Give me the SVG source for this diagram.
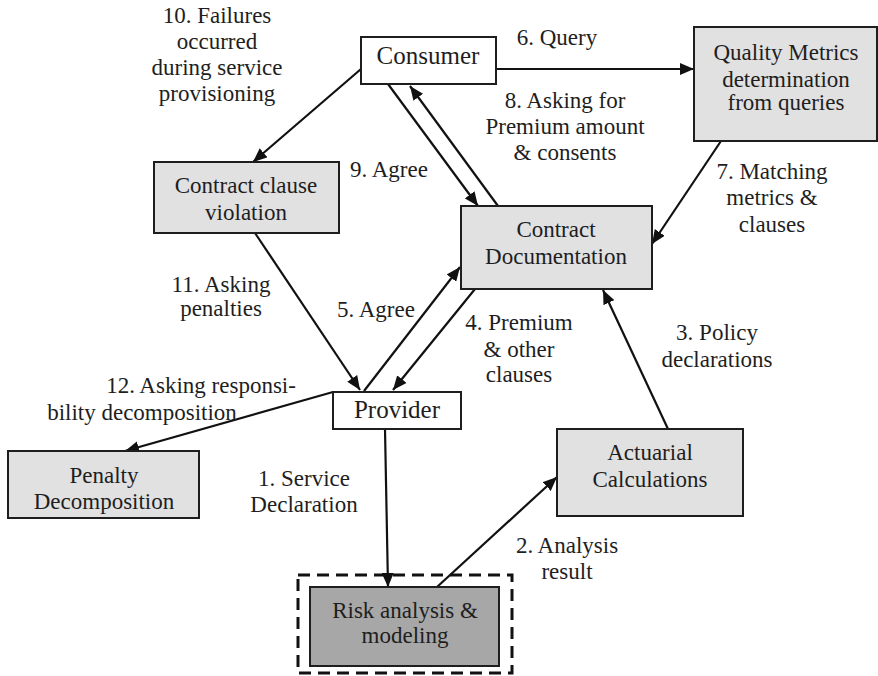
<svg xmlns="http://www.w3.org/2000/svg" width="878" height="676" viewBox="0 0 878 676" font-family="'Liberation Serif', 'DejaVu Serif', serif">
  <style>
    .box { stroke: #1e1e1e; stroke-width: 2; }
    .plain { fill: #ffffff; }
    .shade { fill: #e1e1e1; }
    .dark { fill: #a7a7a7; }
    text { font-family: 'Liberation Serif', 'DejaVu Serif', serif; }
    .lbl { font-size: 23px; fill: #1e1e1e; text-anchor: middle; }
    .big { font-size: 25px; }
    .edge { stroke: #111; stroke-width: 2.2; fill: none; marker-end: url(#head); }
  </style>
  <defs>
    <marker id="head" viewBox="0 0 14 12" refX="14" refY="6" markerWidth="14" markerHeight="12" markerUnits="userSpaceOnUse" orient="auto">
      <path d="M0,0 L14,6 L0,12 Z" fill="#111"/>
    </marker>
  </defs>

  <rect width="878" height="676" fill="#ffffff"/>

  <!-- connectors -->
  <g id="connectors">
    <line class="edge" x1="496" y1="69" x2="694" y2="69"/>
    <line class="edge" x1="721" y1="141" x2="652" y2="244"/>
    <line class="edge" x1="388" y1="84" x2="478" y2="206"/>
    <line class="edge" x1="498" y1="206" x2="410" y2="86"/>
    <line class="edge" x1="361" y1="69" x2="253" y2="162"/>
    <line class="edge" x1="255" y1="233" x2="360" y2="390"/>
    <line class="edge" x1="364" y1="391" x2="460" y2="267"/>
    <line class="edge" x1="475" y1="289" x2="393" y2="390"/>
    <line class="edge" x1="333" y1="392" x2="125" y2="451"/>
    <line class="edge" x1="385" y1="429" x2="388" y2="587"/>
    <line class="edge" x1="437" y1="587" x2="557" y2="477"/>
    <line class="edge" x1="668" y1="429" x2="603" y2="290"/>
  </g>

  <!-- edge labels -->
  <g id="labels">
    <text class="lbl" x="557" y="45">6. Query</text>
    <text class="lbl" x="565" y="108">8. Asking for</text>
    <text class="lbl" x="565" y="134">Premium amount</text>
    <text class="lbl" x="565" y="160">&amp; consents</text>
    <text class="lbl" x="389" y="177">9. Agree</text>
    <text class="lbl" x="217" y="23">10. Failures</text>
    <text class="lbl" x="217" y="49">occurred</text>
    <text class="lbl" x="217" y="75">during service</text>
    <text class="lbl" x="217" y="101">provisioning</text>
    <text class="lbl" x="772" y="179">7. Matching</text>
    <text class="lbl" x="772" y="205">metrics &amp;</text>
    <text class="lbl" x="772" y="232">clauses</text>
    <text class="lbl" x="221" y="292">11. Asking</text>
    <text class="lbl" x="221" y="316">penalties</text>
    <text class="lbl" x="376" y="317">5. Agree</text>
    <text class="lbl" x="519" y="330">4. Premium</text>
    <text class="lbl" x="519" y="357">&amp; other</text>
    <text class="lbl" x="519" y="382">clauses</text>
    <text class="lbl" x="717" y="340">3. Policy</text>
    <text class="lbl" x="717" y="367">declarations</text>
    <text class="lbl" x="201" y="393">12. Asking responsi-</text>
    <text class="lbl" x="142" y="420">bility decomposition</text>
    <text class="lbl" x="304" y="486">1. Service</text>
    <text class="lbl" x="304" y="512">Declaration</text>
    <text class="lbl" x="567" y="553">2. Analysis</text>
    <text class="lbl" x="567" y="579">result</text>
  </g>

  <!-- nodes -->
  <g id="consumer">
    <rect class="box plain" x="361" y="37" width="135" height="47"/>
    <text class="lbl big" x="428" y="64">Consumer</text>
  </g>
  <g id="quality-metrics">
    <rect class="box shade" x="694" y="27" width="183" height="114"/>
    <text class="lbl" x="786" y="60">Quality Metrics</text>
    <text class="lbl" x="786" y="87">determination</text>
    <text class="lbl" x="786" y="110">from queries</text>
  </g>
  <g id="contract-clause-violation">
    <rect class="box shade" x="154" y="162" width="185" height="71"/>
    <text class="lbl" x="246" y="193">Contract clause</text>
    <text class="lbl" x="246" y="220">violation</text>
  </g>
  <g id="contract-documentation">
    <rect class="box shade" x="461" y="206" width="191" height="83"/>
    <text class="lbl" x="556" y="237">Contract</text>
    <text class="lbl" x="556" y="264">Documentation</text>
  </g>
  <g id="provider">
    <rect class="box plain" x="333" y="392" width="128" height="37"/>
    <text class="lbl big" x="397" y="418">Provider</text>
  </g>
  <g id="penalty-decomposition">
    <rect class="box shade" x="8" y="451" width="191" height="67"/>
    <text class="lbl" x="104" y="483">Penalty</text>
    <text class="lbl" x="104" y="509">Decomposition</text>
  </g>
  <g id="actuarial-calculations">
    <rect class="box shade" x="557" y="429" width="186" height="87"/>
    <text class="lbl" x="650" y="460">Actuarial</text>
    <text class="lbl" x="650" y="487">Calculations</text>
  </g>
  <g id="risk-analysis">
    <rect x="298" y="575" width="214" height="98" fill="none" stroke="#111" stroke-width="3" stroke-dasharray="12 7"/>
    <rect class="box dark" x="310" y="587" width="189" height="79"/>
    <text class="lbl" x="405" y="618">Risk analysis &amp;</text>
    <text class="lbl" x="405" y="643">modeling</text>
  </g>
</svg>
